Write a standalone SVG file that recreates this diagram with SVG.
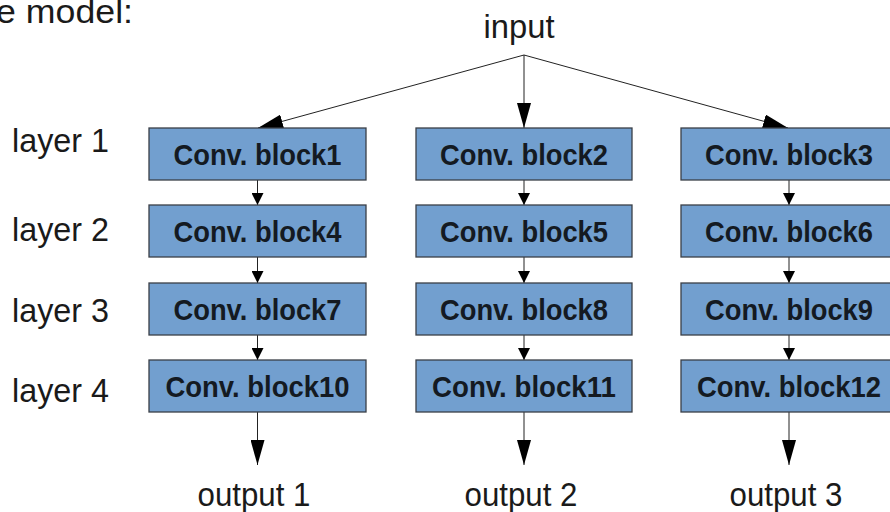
<svg xmlns="http://www.w3.org/2000/svg" width="890" height="512" viewBox="0 0 890 512">
<style>
.box{fill:#729fcf;stroke:#3a3f47;stroke-width:1.3}
.bt{font-family:"Liberation Sans",Arial,sans-serif;font-weight:bold;font-size:30px;fill:#141a22;text-anchor:middle}
.lbl{font-family:"Liberation Sans",Arial,sans-serif;font-size:33px;fill:#1a1a1a}
.ln{stroke:#222;stroke-width:1;fill:none}
</style>
<defs>
<marker id="big" markerUnits="userSpaceOnUse" markerWidth="26" markerHeight="14" refX="25" refY="7" orient="auto"><path d="M0,0 L25,7 L0,14 z" fill="#000"/></marker>
<marker id="small" markerUnits="userSpaceOnUse" markerWidth="13" markerHeight="12" refX="12" refY="6" orient="auto"><path d="M0,0 L12,6 L0,12 z" fill="#000"/></marker>
</defs>
<rect width="890" height="512" fill="#fff"/>
<text class="lbl" x="-4" y="23" font-size="30" textLength="137" lengthAdjust="spacingAndGlyphs">e model:</text>
<g id="input"><text class="lbl" x="519" y="38" text-anchor="middle" textLength="71" lengthAdjust="spacingAndGlyphs">input</text></g>
<g id="labels">
<text class="lbl" x="12" y="152" font-size="35" textLength="97" lengthAdjust="spacingAndGlyphs">layer 1</text>
<text class="lbl" x="12" y="241" font-size="35" textLength="97" lengthAdjust="spacingAndGlyphs">layer 2</text>
<text class="lbl" x="12" y="322" font-size="35" textLength="97" lengthAdjust="spacingAndGlyphs">layer 3</text>
<text class="lbl" x="12" y="402" font-size="35" textLength="97" lengthAdjust="spacingAndGlyphs">layer 4</text>
</g>
<g id="connectors">
<line class="ln" x1="524" y1="55" x2="258" y2="128" marker-end="url(#big)"/>
<line class="ln" x1="524" y1="55" x2="524" y2="128" marker-end="url(#big)"/>
<line class="ln" x1="524" y1="55" x2="788" y2="128" marker-end="url(#big)"/>
<line class="ln" x1="257.5" y1="180" x2="257.5" y2="205" marker-end="url(#small)"/>
<line class="ln" x1="257.5" y1="257" x2="257.5" y2="283" marker-end="url(#small)"/>
<line class="ln" x1="257.5" y1="335" x2="257.5" y2="360" marker-end="url(#small)"/>
<line class="ln" x1="524" y1="180" x2="524" y2="205" marker-end="url(#small)"/>
<line class="ln" x1="524" y1="257" x2="524" y2="283" marker-end="url(#small)"/>
<line class="ln" x1="524" y1="335" x2="524" y2="360" marker-end="url(#small)"/>
<line class="ln" x1="789" y1="180" x2="789" y2="205" marker-end="url(#small)"/>
<line class="ln" x1="789" y1="257" x2="789" y2="283" marker-end="url(#small)"/>
<line class="ln" x1="789" y1="335" x2="789" y2="360" marker-end="url(#small)"/>
<line class="ln" x1="257.5" y1="412" x2="257.5" y2="465" marker-end="url(#big)"/>
<line class="ln" x1="524" y1="412" x2="524" y2="465" marker-end="url(#big)"/>
<line class="ln" x1="789" y1="412" x2="789" y2="465" marker-end="url(#big)"/>
</g>
<g id="block1"><rect class="box" x="149" y="128" width="217" height="52"/><text class="bt" x="257.5" y="164.5" textLength="168" lengthAdjust="spacingAndGlyphs">Conv. block1</text></g>
<g id="block2"><rect class="box" x="416" y="128" width="216" height="52"/><text class="bt" x="524" y="164.5" textLength="168" lengthAdjust="spacingAndGlyphs">Conv. block2</text></g>
<g id="block3"><rect class="box" x="681" y="128" width="217" height="52"/><text class="bt" x="789" y="164.5" textLength="168" lengthAdjust="spacingAndGlyphs">Conv. block3</text></g>
<g id="block4"><rect class="box" x="149" y="205" width="217" height="52"/><text class="bt" x="257.5" y="241.5" textLength="168" lengthAdjust="spacingAndGlyphs">Conv. block4</text></g>
<g id="block5"><rect class="box" x="416" y="205" width="216" height="52"/><text class="bt" x="524" y="241.5" textLength="168" lengthAdjust="spacingAndGlyphs">Conv. block5</text></g>
<g id="block6"><rect class="box" x="681" y="205" width="217" height="52"/><text class="bt" x="789" y="241.5" textLength="168" lengthAdjust="spacingAndGlyphs">Conv. block6</text></g>
<g id="block7"><rect class="box" x="149" y="283" width="217" height="52"/><text class="bt" x="257.5" y="319.5" textLength="168" lengthAdjust="spacingAndGlyphs">Conv. block7</text></g>
<g id="block8"><rect class="box" x="416" y="283" width="216" height="52"/><text class="bt" x="524" y="319.5" textLength="168" lengthAdjust="spacingAndGlyphs">Conv. block8</text></g>
<g id="block9"><rect class="box" x="681" y="283" width="217" height="52"/><text class="bt" x="789" y="319.5" textLength="168" lengthAdjust="spacingAndGlyphs">Conv. block9</text></g>
<g id="block10"><rect class="box" x="149" y="360" width="217" height="52"/><text class="bt" x="257.5" y="396.5" textLength="184" lengthAdjust="spacingAndGlyphs">Conv. block10</text></g>
<g id="block11"><rect class="box" x="416" y="360" width="216" height="52"/><text class="bt" x="524" y="396.5" textLength="184" lengthAdjust="spacingAndGlyphs">Conv. block11</text></g>
<g id="block12"><rect class="box" x="681" y="360" width="217" height="52"/><text class="bt" x="789" y="396.5" textLength="184" lengthAdjust="spacingAndGlyphs">Conv. block12</text></g>
<g id="outputs">
<text class="lbl" x="254" y="506" text-anchor="middle" textLength="113" lengthAdjust="spacingAndGlyphs">output 1</text>
<text class="lbl" x="521" y="506" text-anchor="middle" textLength="113" lengthAdjust="spacingAndGlyphs">output 2</text>
<text class="lbl" x="786" y="506" text-anchor="middle" textLength="113" lengthAdjust="spacingAndGlyphs">output 3</text>
</g>
</svg>
